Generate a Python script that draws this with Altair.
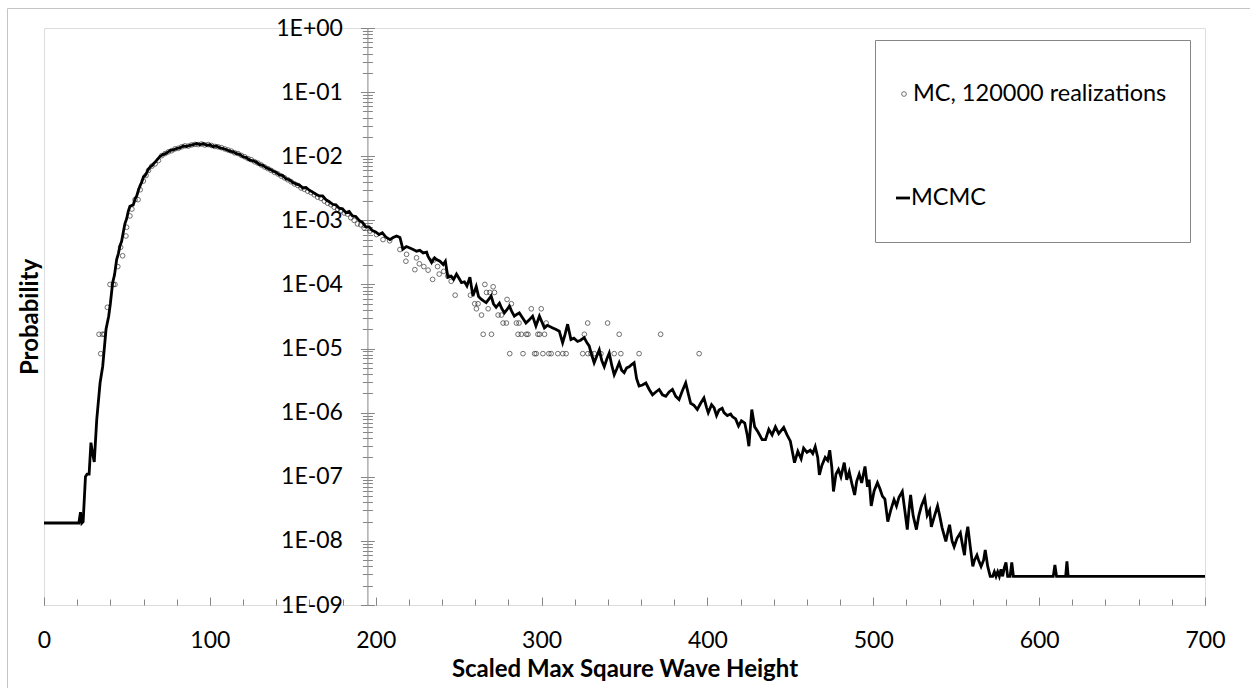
import altair as alt
import pandas as pd

# ---------------- data ----------------
SERIES = ["MC, 120000 realizations", "MCMC"]

# MCMC curve (x, probability), split in segments
MCMC_RISE = [
    (0, 1.9e-8), (21, 1.9e-8), (22, 2.8e-8), (22.8, 1.9e-8), (23.6, 2.0e-8),
    (25.0, 1.0e-7), (26.0, 1.1e-7), (27.2, 1.1e-7), (28.3, 3.4e-7), (29.2, 2.4e-7),
    (30.3, 1.7e-7), (31.8, 7.8e-7), (33.8, 2.9e-6), (35.4, 5.3e-6), (37.4, 2.0e-5),
    (39.0, 3.2e-5), (40.0, 5.0e-5), (41.4, 1.07e-4), (42.5, 1.4e-4), (43.8, 2.45e-4),
    (44.8, 3.0e-4), (45.8, 4.0e-4), (46.8, 4.7e-4), (47.8, 6.5e-4), (48.8, 8.9e-4),
    (49.8, 1.05e-3), (50.8, 1.38e-3), (51.8, 1.66e-3), (53.8, 1.74e-3), (55.0, 2.2e-3),
    (55.9, 2.4e-3), (57.0, 3.0e-3), (57.9, 3.45e-3), (59, 4.0e-3), (60, 4.8e-3),
    (61, 5.0e-3), (62, 5.6e-3), (63, 6.3e-3), (64, 6.8e-3), (65, 7.1e-3),
    (66, 7.6e-3), (67, 8.1e-3), (68, 8.7e-3), (69, 9.3e-3), (70, 1.0e-2),
]
MCMC_PEAK = [
    (72, 1.07e-2), (74, 1.12e-2), (76, 1.23e-2), (78, 1.26e-2), (80, 1.32e-2),
    (82, 1.35e-2), (84, 1.45e-2), (86, 1.41e-2), (88, 1.48e-2), (90, 1.51e-2),
    (92, 1.58e-2), (94, 1.51e-2), (96, 1.58e-2), (98, 1.48e-2), (100, 1.51e-2),
    (102, 1.41e-2), (104, 1.45e-2), (106, 1.35e-2), (108, 1.32e-2), (110, 1.26e-2),
    (112, 1.20e-2), (114, 1.17e-2), (116, 1.10e-2), (118, 1.07e-2), (120, 9.8e-3),
    (122, 9.5e-3), (124, 8.7e-3), (126, 8.5e-3), (128, 8.1e-3), (130, 7.4e-3),
    (132, 7.2e-3), (134, 6.6e-3), (136, 6.3e-3), (138, 5.9e-3), (140, 5.6e-3),
    (142, 5.1e-3), (144, 5.0e-3), (146, 4.4e-3), (148, 4.3e-3), (150, 3.9e-3),
    (152, 3.7e-3), (154, 3.55e-3), (156, 3.2e-3), (158, 3.25e-3), (160, 2.95e-3),
    (162, 2.75e-3), (164, 2.55e-3), (166, 2.4e-3), (168, 2.4e-3), (170, 2.1e-3),
    (172, 1.95e-3), (174, 1.78e-3), (176, 1.74e-3), (178, 1.55e-3), (180, 1.51e-3),
    (182, 1.32e-3), (184, 1.38e-3), (186, 1.17e-3), (188, 1.15e-3), (190, 1.0e-3),
    (192, 9.3e-4), (194, 7.9e-4), (196, 7.9e-4), (198, 6.9e-4), (200, 6.6e-4),
]
MCMC_MID = [
    (202, 6.0e-4), (204, 6.4e-4), (206, 5.5e-4), (208.6, 5.0e-4), (210.5, 5.4e-4),
    (212.6, 5.7e-4), (214.6, 5.4e-4), (216.4, 3.55e-4), (218.5, 3.9e-4), (220.6, 3.7e-4),
    (222.6, 3.5e-4), (224.6, 3.3e-4), (226.6, 3.4e-4), (228.6, 3.1e-4), (230.7, 3.2e-4),
    (231.5, 2.75e-4), (233.7, 2.2e-4), (235.5, 2.6e-4), (236.7, 2.45e-4), (238.7, 2.3e-4),
    (240.7, 2.05e-4), (242, 2.3e-4), (243.5, 1.3e-4), (245.5, 1.35e-4), (247, 1.2e-4),
    (248.7, 1.45e-4), (250.2, 1.25e-4), (251.7, 1.07e-4), (253.5, 1.1e-4), (255.0, 9.5e-5),
    (256.8, 1.3e-4), (258.6, 6.6e-5), (260.6, 9.3e-5), (262, 6.5e-5), (263.6, 5.9e-5),
    (265.2, 5.5e-5), (266.6, 5.2e-5), (268, 5.8e-5), (269.6, 6.6e-5), (271, 5.0e-5),
    (272.6, 4.4e-5), (274.6, 5.1e-5), (276, 4.2e-5), (277.6, 3.6e-5), (279, 4.0e-5),
    (280.6, 4.6e-5), (282, 3.8e-5), (283.6, 3.2e-5), (285, 3.4e-5), (286.6, 3.6e-5),
    (288.6, 3.0e-5), (290.6, 2.5e-5), (292.6, 2.8e-5), (294.6, 3.2e-5), (296.6, 2.25e-5),
    (298.7, 3.2e-5), (300.2, 2.6e-5), (301.7, 2.1e-5), (303.5, 2.3e-5), (305, 2.2e-5),
    (306.7, 2.1e-5), (308.5, 2.0e-5), (310.7, 1.86e-5), (312.7, 1.23e-5), (314, 1.6e-5),
    (315.7, 2.4e-5), (317.7, 1.38e-5), (319.5, 1.45e-5), (321.7, 1.29e-5), (323.5, 1.35e-5),
    (325.7, 1.48e-5), (327.2, 1.25e-5), (328.7, 1.1e-5), (330.2, 8.0e-6), (331.7, 6.0e-6),
    (333.2, 7.5e-6), (334.8, 9.5e-6), (336.3, 6.5e-6), (337.8, 5.2e-6), (339.3, 6.8e-6),
    (340.8, 8.5e-6), (342.3, 5.5e-6), (343.8, 3.9e-6), (345.3, 4.8e-6), (346.8, 6.0e-6),
    (348.3, 4.6e-6), (349.8, 4.2e-6), (351.3, 5.0e-6), (352.8, 5.2e-6), (354.3, 5.6e-6),
    (355.8, 6.0e-6), (357.3, 3.4e-6), (358.8, 2.6e-6), (360.8, 2.7e-6), (362.9, 2.9e-6),
    (364.9, 2.3e-6), (366.9, 1.9e-6), (368.9, 2.1e-6), (370.9, 2.3e-6), (372.9, 1.9e-6),
    (374.9, 1.8e-6), (376.9, 2.1e-6), (378.9, 2.3e-6), (380.9, 1.8e-6), (382.9, 1.6e-6),
    (384.9, 2.2e-6), (386.9, 2.9e-6), (388.4, 2.0e-6), (389.9, 1.4e-6), (391.9, 1.3e-6),
    (393.9, 1.12e-6), (395.9, 1.4e-6), (397.9, 1.7e-6), (399.5, 1.2e-6), (400.5, 1.0e-6),
]
MCMC_TAIL = [
    (402.5, 1.33e-6), (404, 1.2e-6), (405.5, 9.0e-7), (407, 1.1e-6), (408.9, 1.17e-6),
    (410, 1.0e-6), (412, 9.0e-7), (414, 9.5e-7), (415, 8.7e-7), (417, 8.0e-7),
    (418.75, 6.2e-7), (420.5, 7.5e-7), (422.5, 6.9e-7), (424, 4.5e-7), (425, 3.0e-7),
    (426.75, 1.12e-6), (428.5, 6.0e-7), (430.5, 5.0e-7), (433, 3.8e-7), (435, 3.8e-7),
    (437, 5.5e-7), (439, 4.5e-7), (441, 6.0e-7), (443, 4.7e-7), (446, 5.9e-7),
    (448, 4.5e-7), (450, 3.6e-7), (452.5, 1.66e-7), (454.5, 2.5e-7), (456.5, 1.9e-7),
    (458, 2.8e-7), (460, 2.4e-7), (462, 2.6e-7), (463.5, 2.3e-7), (465, 2.95e-7),
    (466.5, 2.0e-7), (467.5, 1.07e-7), (469, 1.5e-7), (471, 2.0e-7), (472.5, 1.8e-7),
    (473.75, 2.6e-7), (475, 1.4e-7), (476, 5.9e-8), (477.5, 1.1e-7), (479, 1.3e-7),
    (480.5, 1.0e-7), (482.5, 1.66e-7), (484, 9.0e-8), (485.5, 1.2e-7), (487, 8.0e-8),
    (488.75, 5.2e-8), (490, 8.5e-8), (491.5, 1.1e-7), (493, 8.0e-8), (495, 1.45e-7),
    (496.5, 7.0e-8), (497.5, 9.0e-8), (498.75, 3.5e-8), (500.5, 6.0e-8), (502.5, 8.1e-8),
    (504, 6.5e-8), (505.5, 5.0e-8), (507, 4.5e-8), (508.75, 2.0e-8), (510.5, 3.0e-8),
    (512.5, 4.4e-8), (514, 3.5e-8), (515.5, 4.8e-8), (517.5, 5.9e-8), (519, 3.0e-8),
    (520.5, 1.5e-8), (521.5, 3.0e-8), (522.5, 5.2e-8), (524, 2.5e-8), (526, 1.5e-8),
    (527.5, 2.5e-8), (529, 3.5e-8), (531, 4.7e-8), (532.5, 2.5e-8), (534, 3.0e-8),
    (535, 1.66e-8), (537, 2.5e-8), (538.75, 3.5e-8), (540, 2.5e-8), (541.5, 1.6e-8),
    (543.75, 9.8e-9), (545, 1.4e-8), (546, 1.78e-8), (547.5, 1.0e-8), (548.75, 8.1e-9),
    (550.5, 1.1e-8), (552.5, 1.33e-8), (554, 8.0e-9), (555, 6.0e-9), (556, 1.2e-8),
    (557, 1.66e-8), (558.5, 8.0e-9), (560, 4.0e-9), (561, 5.0e-9), (562.5, 6.0e-9),
    (563.5, 5.0e-9), (565, 4.0e-9), (566.5, 5.0e-9), (567.5, 7.2e-9), (569, 4.0e-9),
    (570.5, 2.8e-9), (572, 2.8e-9), (573, 3.3e-9), (574, 2.8e-9), (575, 3.3e-9),
    (576, 2.8e-9), (577, 3.6e-9), (578, 2.8e-9), (579, 3.8e-9), (580, 4.6e-9),
    (581, 2.8e-9), (582.5, 2.8e-9), (583.5, 4.6e-9), (584.5, 2.8e-9), (608.5, 2.8e-9),
    (609.5, 4.2e-9), (610.5, 2.8e-9), (616, 2.8e-9), (616.75, 4.8e-9), (617.5, 2.8e-9),
    (700, 2.8e-9),
]

# MC realisations (x, probability)
MC_HEAD = [
    (33.2, 1.67e-5), (34.2, 8.33e-6), (35.2, 1.67e-5), (36.3, 1.67e-5), (38.2, 4.4e-5),
    (39.8, 1.0e-4), (41.8, 1.0e-4), (42.8, 1.0e-4), (44.5, 1.9e-4), (46.2, 3.8e-4),
    (47.4, 2.8e-4), (49.4, 5.7e-4), (49.8, 7.8e-4), (51.8, 1.17e-3), (53.0, 1.5e-3),
    (54.9, 2.1e-3), (56.7, 2.1e-3), (58.0, 3.0e-3), (59.9, 4.1e-3), (61.5, 5.0e-3),
    (63.0, 6.0e-3), (65.0, 7.0e-3), (67.0, 7.6e-3), (69.0, 8.6e-3),
]
MC_BODY = [
    (71, 1.02e-2), (73, 1.1e-2), (75, 1.17e-2), (77, 1.22e-2), (79, 1.3e-2),
    (81, 1.33e-2), (83, 1.4e-2), (85, 1.45e-2), (87, 1.44e-2), (89, 1.5e-2),
    (91, 1.53e-2), (93, 1.52e-2), (95, 1.55e-2), (97, 1.5e-2), (99, 1.52e-2),
    (101, 1.47e-2), (103, 1.42e-2), (105, 1.4e-2), (107, 1.36e-2), (109, 1.3e-2),
    (111, 1.25e-2), (113, 1.2e-2), (115, 1.13e-2), (117, 1.1e-2), (119, 1.03e-2),
    (121, 9.8e-3), (123, 9.2e-3), (125, 8.8e-3), (127, 8.2e-3), (129, 7.8e-3),
    (131, 7.3e-3), (133, 6.8e-3), (135, 6.4e-3), (137, 6.0e-3), (139, 5.6e-3),
    (141, 5.3e-3), (143, 4.9e-3), (145, 4.6e-3), (147, 4.3e-3), (149, 4.0e-3),
    (151, 3.7e-3), (153, 3.5e-3), (155, 3.2e-3), (157, 3.05e-3), (159, 2.85e-3),
    (161, 2.7e-3), (163, 2.5e-3), (165, 2.3e-3), (167, 2.2e-3), (169, 2.0e-3),
    (171, 1.85e-3), (173, 1.75e-3), (175, 1.6e-3), (177, 1.5e-3), (179, 1.4e-3),
    (181, 1.3e-3), (183, 1.25e-3), (185, 1.1e-3), (187, 1.0e-3), (189, 8.8e-4),
    (191, 8.5e-4), (193, 7.6e-4),
]
MC_TAIL = [
    (196.5, 6.8e-4), (200.5, 6.0e-4), (204.4, 5.0e-4), (208.4, 4.8e-4), (214.6, 3.5e-4),
    (218.6, 2.95e-4), (218.2, 2.3e-4), (223.6, 1.7e-4), (224.6, 2.6e-4), (226.3, 2.1e-4),
    (229.0, 1.9e-4), (231.6, 1.67e-4), (234.3, 1.2e-4), (235.0, 2.4e-4), (237.3, 1.9e-4),
    (238.3, 1.45e-4), (241.0, 1.6e-4), (243.5, 1.35e-4), (245.5, 1.12e-4), (247.9, 6.8e-5),
    (257.1, 6.8e-5), (259.7, 5.0e-5), (260.7, 4.17e-5), (261.7, 5.0e-5), (263.8, 3.33e-5),
    (264.8, 1.67e-5), (265.8, 1.0e-4), (266.8, 7.5e-5), (267.8, 4.17e-5), (268.8, 7.5e-5),
    (269.8, 1.67e-5), (270.8, 9.2e-5), (271.6, 7.5e-5), (273.8, 3.33e-5), (275.8, 3.33e-5),
    (276.8, 2.5e-5), (278.8, 2.5e-5), (279.2, 5.83e-5), (280.8, 8.33e-6), (281.8, 5.0e-5),
    (284.8, 2.5e-5), (285.8, 1.67e-5), (286.4, 2.5e-5), (287.8, 1.67e-5), (288.8, 8.33e-6),
    (290.8, 1.67e-5), (291.8, 1.67e-5), (293.8, 4.17e-5), (295.8, 8.33e-6), (296.8, 8.33e-6),
    (297.8, 1.67e-5), (298.8, 1.67e-5), (299.8, 4.17e-5), (300.8, 8.33e-6), (301.8, 1.67e-5),
    (302.8, 2.5e-5), (304.4, 8.33e-6), (305.8, 8.33e-6), (309.8, 8.33e-6), (312.8, 8.33e-6),
    (314.8, 8.33e-6), (324.8, 8.33e-6), (325.8, 1.67e-5), (327.8, 2.5e-5), (327.9, 8.33e-6),
    (329.8, 8.33e-6), (331.8, 8.33e-6), (335.8, 8.33e-6), (339.8, 2.5e-5), (343.8, 8.33e-6),
    (346.8, 1.67e-5), (347.8, 8.33e-6), (358.8, 8.33e-6), (371.8, 1.67e-5), (395.0, 8.33e-6),
]

X_MAJOR = [0, 100, 200, 300, 400, 500, 600, 700]
X_MINOR = list(range(0, 701, 20))
Y_LABELS = ["1E+00", "1E-01", "1E-02", "1E-03", "1E-04",
            "1E-05", "1E-06", "1E-07", "1E-08", "1E-09"]
Y_DECADES = [10.0 ** -k for k in range(0, 10)]
Y_MINOR = [m * 10.0 ** -k for k in range(1, 10) for m in range(2, 10)]
Y_AXIS_CROSS = 195  # x value where the vertical axis sits

# ---------------- layout ----------------
W, H = 1161, 577
LEFT, TOP = 44, 28
AXIS_COLOR = "#868686"
FONT = "Lato"
FS = 23
TFS = 24

y_axis_px = Y_AXIS_CROSS / 700 * W

mcmc_df = pd.DataFrame(MCMC_RISE + MCMC_PEAK + MCMC_MID + MCMC_TAIL, columns=["x", "p"])
mc_df = pd.DataFrame(MC_HEAD + MC_BODY + MC_TAIL, columns=["x", "p"])

x_scale = alt.Scale(domain=[0, 700], nice=False, zero=False)
y_scale = alt.Scale(type="log", domain=[1e-9, 1], nice=False)

label_expr = "%s[round(-log(datum.value)/LN10)]" % str(Y_LABELS)

POINT_STYLE = dict(shape="circle", filled=False, size=22, stroke="#1e1e1e", strokeWidth=0.9)

points = alt.Chart(mc_df).mark_point(**POINT_STYLE).encode(
    x=alt.X("x:Q", scale=x_scale, axis=alt.Axis(
        orient="bottom", values=X_MAJOR, ticks=False, tickSize=0, domain=False, grid=False,
        labelFontSize=FS, labelFont=FONT, labelColor="black", labelPadding=24,
        labelFlush=False, labelOverlap=False,
        title="Scaled Max Sqaure Wave Height", titleFontSize=TFS, titleFont=FONT,
        titleFontWeight="bold", titleColor="black", titleY=64, titleBaseline="middle",
    )),
    y=alt.Y("p:Q", scale=y_scale, axis=alt.Axis(
        orient="left", offset=-y_axis_px, values=Y_DECADES, labelExpr=label_expr,
        tickSize=7, tickColor=AXIS_COLOR, domainColor=AXIS_COLOR, grid=False,
        labelFontSize=FS, labelFont=FONT, labelColor="black", labelPadding=18,
        labelOverlap=False, labelFlush=False,
        title="Probability", titleFontSize=TFS, titleFont=FONT, titleFontWeight="bold",
        titleColor="black", titleAngle=270, titleX=30 - LEFT - y_axis_px, titleY=H / 2,
        titleAlign="center", titleBaseline="middle",
    )),
)

line = alt.Chart(mcmc_df).mark_line(color="black", strokeWidth=2.8).encode(
    x=alt.X("x:Q", scale=x_scale, axis=alt.Axis(
        orient="top", offset=-H, values=X_MAJOR, tickSize=8, tickColor=AXIS_COLOR,
        labels=False, domain=False, grid=False, title=None)),
    y=alt.Y("p:Q", scale=y_scale, axis=alt.Axis(
        orient="right", offset=y_axis_px - W, values=Y_DECADES, tickSize=7,
        tickColor=AXIS_COLOR, labels=False, domain=False, grid=False, title=None)),
)

minor_a = alt.Chart(mcmc_df).mark_line(strokeOpacity=0).encode(
    x=alt.X("x:Q", scale=x_scale, axis=alt.Axis(
        orient="top", offset=-H, values=X_MINOR, tickSize=6, tickColor=AXIS_COLOR,
        labels=False, domain=False, grid=False, title=None)),
    y=alt.Y("p:Q", scale=y_scale, axis=alt.Axis(
        orient="left", offset=-y_axis_px, values=Y_MINOR, tickSize=5,
        tickColor=AXIS_COLOR, labels=False, domain=False, grid=False, title=None)),
)

minor_b = alt.Chart(mcmc_df).mark_line(strokeOpacity=0).encode(
    x=alt.X("x:Q", scale=x_scale, axis=None),
    y=alt.Y("p:Q", scale=y_scale, axis=alt.Axis(
        orient="right", offset=y_axis_px - W, values=Y_MINOR, tickSize=5,
        tickColor=AXIS_COLOR, labels=False, domain=False, grid=False, title=None)),
)

one = pd.DataFrame({"k": [0]})

# legend (box, symbols, labels)
leg_box = alt.Chart(one).mark_rect(fill="white", stroke=AXIS_COLOR, strokeWidth=1).encode(
    x=alt.value(875.5 - LEFT), x2=alt.value(1190.5 - LEFT),
    y=alt.value(40.5 - TOP), y2=alt.value(242.5 - TOP))
leg_pt = alt.Chart(one).mark_point(**POINT_STYLE).encode(
    x=alt.value(904 - LEFT), y=alt.value(94 - TOP))
leg_txt1 = alt.Chart(one).mark_text(
    align="left", baseline="middle", fontSize=FS + 0.5, font=FONT, color="black"
).encode(x=alt.value(913 - LEFT), y=alt.value(94 - TOP), text=alt.value(SERIES[0]))
leg_ln = alt.Chart(one).mark_rule(color="black", strokeWidth=2.8).encode(
    x=alt.value(896 - LEFT), x2=alt.value(910 - LEFT), y=alt.value(198 - TOP))
leg_txt2 = alt.Chart(one).mark_text(
    align="left", baseline="middle", fontSize=FS + 0.5, font=FONT, color="black"
).encode(x=alt.value(911 - LEFT), y=alt.value(198 - TOP), text=alt.value(SERIES[1]))

# outer chart frame (top and left edges visible)
frame_top = alt.Chart(one).mark_rule(color="#c4c4c4", strokeWidth=1).encode(
    x=alt.value(7.5 - LEFT), x2=alt.value(1260 - LEFT), y=alt.value(8.5 - TOP))
frame_left = alt.Chart(one).mark_rule(color="#c4c4c4", strokeWidth=1).encode(
    x=alt.value(7.5 - LEFT), y=alt.value(8.5 - TOP), y2=alt.value(700 - TOP))

chart = alt.layer(
    points, line, minor_a, minor_b,
    leg_box, leg_pt, leg_txt1, leg_ln, leg_txt2, frame_top, frame_left,
).resolve_axis(x="independent", y="independent").properties(
    width=W, height=H,
    autosize="none",
    padding={"left": LEFT, "top": TOP, "right": 1250 - LEFT - W, "bottom": 688 - TOP - H},
    background="white",
).configure_view(stroke=AXIS_COLOR, strokeWidth=1).configure(font=FONT)

chart.save("out.html", embed_options={"renderer": "svg", "actions": False})
